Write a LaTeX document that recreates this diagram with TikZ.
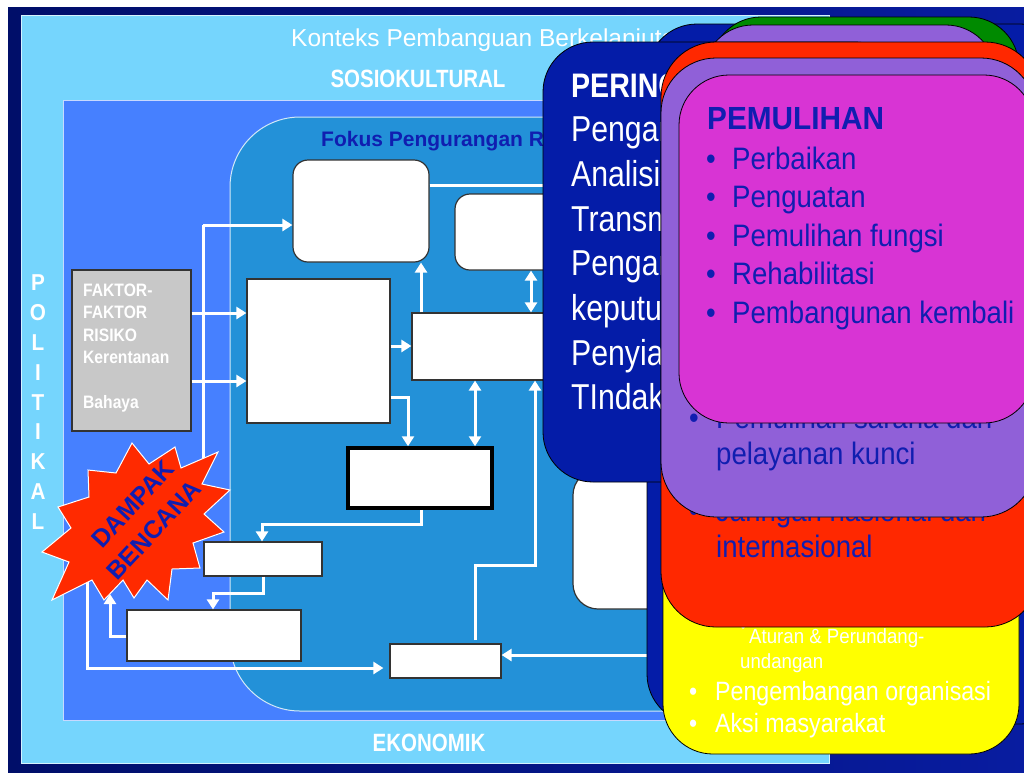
\documentclass[tikz,border=0pt]{standalone}
\usepackage{fontspec}
\setmainfont{Liberation Sans}
\usetikzlibrary{arrows.meta,positioning}
\definecolor{slidenavy}{RGB}{0,14,105}
\definecolor{slidenavyr}{RGB}{8,28,160}
\definecolor{skycyan}{RGB}{117,213,253}
\definecolor{midblue}{RGB}{70,128,255}
\definecolor{focusblue}{RGB}{35,145,216}
\definecolor{cardnavy}{RGB}{4,28,168}
\definecolor{cardgreen}{RGB}{0,138,0}
\definecolor{cardpurple}{RGB}{144,96,216}
\definecolor{cardred}{RGB}{255,40,0}
\definecolor{cardyellow}{RGB}{255,255,0}
\definecolor{cardmagenta}{RGB}{216,52,212}
\definecolor{inkblue}{RGB}{16,30,176}
\definecolor{burstred}{RGB}{255,42,0}
\definecolor{faktorgrey}{RGB}{200,200,200}
\newcommand{\fsz}[1]{\fontsize{#1}{#1}\selectfont}

\begin{document}
\begin{tikzpicture}[x=1pt,y=-1pt]
        \tikzstyle{box}=[draw=black!80,fill=white,line width=1.2pt,inner sep=0pt]
        \tikzstyle{rbox}=[box,rounded corners=15pt]
        \tikzstyle{edge}=[draw=white,line width=3pt]
        \tikzstyle{arr}=[edge,-{Triangle[length=10pt,width=12pt]}]
        \tikzstyle{darr}=[edge,{Triangle[length=10pt,width=12pt]}-{Triangle[length=10pt,width=12pt]}]
        \tikzstyle{card}=[draw=black,line width=0.8pt,rounded corners=50pt]
        \tikzstyle{hdr}=[text=white,font=\fsz{25}\bfseries,xscale=0.82,inner sep=0pt]
        \tikzstyle{cardtxt}=[anchor=base west,inner sep=0pt,text=white]
        \tikzstyle{maintxt}=[cardtxt,font=\fsz{36},xscale=0.84]
        \tikzstyle{yeltxt}=[cardtxt,font=\fsz{26.5},xscale=0.875]
        \tikzstyle{inktxt}=[cardtxt,text=inkblue,font=\fsz{31},xscale=0.89]

        \useasboundingbox (0,0) rectangle (1024,772);
        \fill[white] (0,0) rectangle (1024,772);
        \shade[left color=slidenavy,right color=slidenavyr] (8,7) rectangle (1024,772);
        \path[fill=skycyan,draw=white!70!skycyan,line width=1pt] (21,15) rectangle (829,763);
        \path[fill=midblue,draw=white!70!midblue,line width=1pt] (63,100) rectangle (720,720);
        \path[fill=focusblue,draw=white!80!focusblue,line width=1pt,rounded corners=70pt] (230,117) rectangle (740,711);

        \node[text=white,font=\fsz{24.5},anchor=base west,inner sep=0pt] (konteks) at (291,46) {Konteks Pembanguan Berkelanjutan};
        \node[hdr] (sosio) at (418,79) {SOSIOKULTURAL};
        \node[hdr] (ekonomik) at (429,743) {EKONOMIK};
        \foreach \c [count=\i from 0] in {P,O,L,I,T,I,K,A,L}
            \node[text=white,font=\fsz{23}\bfseries,xscale=0.9] (pol\i) at (38,283+29.8*\i) {\c};
        \node[cardtxt,text=inkblue,font=\fsz{21}\bfseries] (fokus) at (321,146) {Fokus Pengurangan Risiko Bencana};

        \node [box,fill=faktorgrey,minimum width=119pt,minimum height=161pt] (faktor) at (131.5,350.5) {};
        \foreach \t/\k in {FAKTOR-/0,FAKTOR/1,RISIKO/2,Kerentanan/3,Bahaya/5}
            \node[cardtxt,font=\fsz{18}\bfseries,xscale=0.87] at (83,296.5+22.4*\k) {\t};

        \node [rbox,minimum width=136pt,minimum height=102pt] (kotak1) at (361,211) {};
        \node [box,minimum width=143pt,minimum height=144pt] (kotak2) at (318.5,351) {};
        \node [rbox,minimum width=155pt,minimum height=76pt] (kotak3) at (532.5,232) {};
        \node [box,minimum width=198pt,minimum height=67pt] (kotak4) at (511,346.5) {};
        \node [box,draw=black,line width=3.5pt,minimum width=144pt,minimum height=60pt] (kotak5) at (420,478) {};
        \node [box,minimum width=118pt,minimum height=34pt] (kotak6) at (263,559) {};
        \node [box,minimum width=174pt,minimum height=51pt] (kotak7) at (214,635.5) {};
        \node [box,minimum width=111pt,minimum height=34pt] (kotak8) at (445.5,661) {};
        \node [box,rounded corners=25pt,minimum width=147pt,minimum height=139pt] (kotak9) at (646.5,539.5) {};

        \coordinate (sTop) at (203,225);
        \coordinate (sBot) at (203,468);
        \coordinate (aEnd) at (560,185);
        \coordinate (hTap) at (475,640);
        \coordinate (hFeed) at (660,655);
        \coordinate (burstfoot) at (110,594);
        \coordinate (burstleg) at (87,570);

        \path[edge] (sTop) -- (sBot);
        \path[arr] (sTop) -- (sTop -| kotak1.west);
        \path[arr] (faktor.east |- 0,313) -- (kotak2.west |- 0,313);
        \path[arr] (faktor.east |- 0,381) -- (kotak2.west |- 0,381);
        \path[edge] (kotak1.east |- aEnd) -- (aEnd);
        \path[arr] (kotak2.east |- 0,346) -- (kotak4.west |- 0,346);
        \path[arr] (421,0 |- kotak4.north) -- (421,0 |- kotak1.south);
        \path[darr] (531,0 |- kotak3.south) -- (531,0 |- kotak4.north);
        \path[arr] (kotak2.east |- 0,397) -| (408,0 |- kotak5.north);
        \path[darr] (475,0 |- kotak4.south) -- (475,0 |- kotak5.north);
        \path[arr] (hTap) |- (535,565) -- (535,0 |- kotak4.south);
        \path[arr] (421,0 |- kotak5.south) |- (262,524) -- (262,0 |- kotak6.north);
        \path[arr] (263,0 |- kotak6.south) |- (213,593) -- (213,0 |- kotak7.north);
        \path[arr] (kotak7.west |- 0,636) -| (burstfoot);
        \path[arr,shorten >=6pt] (burstleg) |- (kotak8.west |- 0,668);
        \path[arr] (hFeed) -- (kotak8.east |- hFeed);

        \path[fill=burstred,draw=white,line width=1pt]
            (132,443) -- (149,464) -- (175,447) -- (181,468) -- (218,452) -- (202,484)
            -- (230,490) -- (204,514) -- (224,532) -- (193,543) -- (200,568) -- (172,569)
            -- (168,600) -- (147,580) -- (134,598) -- (123,580) -- (104,600) -- (92,580)
            -- (52,600) -- (69,562) -- (42,552) -- (71,528) -- (58,507) -- (89,497)
            -- (88,470) -- (116,473) -- cycle;
        \node[text=inkblue,font=\fsz{25}\bfseries,rotate=47] (dampak) at (133,504) {DAMPAK};
        \node[text=inkblue,font=\fsz{25}\bfseries,rotate=47] (bencana) at (154,530) {BENCANA};

        \path[card,fill=cardnavy] (647,24) rectangle (1070,724);
        \path[card,fill=cardgreen] (711,17) rectangle (1019,420);
        \path[card,fill=cardpurple] (703,25) rectangle (996,420);
        \path[card,fill=cardnavy] (543,42) rectangle (905,482);
        \node[cardtxt,font=\fsz{34}\bfseries,xscale=0.84] (peringatan) at (571,97) {PERINGATAN};
        \foreach \t [count=\i] in {Pengamatan,Analisis,Transmisi,Pengambilan,keputusan,Penyiapan,TIndakan}
            \node[maintxt] at (571,97+44.7*\i) {\t};

        \path[card,fill=cardyellow] (663,300) rectangle (1019,754);
        \node[cardtxt,font=\fsz{12}] at (741,631) {•};
        \node[cardtxt,font=\fsz{20.5},xscale=0.91] at (749,643) {Aturan \& Perundang-};
        \node[cardtxt,font=\fsz{20.5},xscale=0.91] at (740,668) {undangan};
        \node[yeltxt] at (689,700) {•};
        \node[yeltxt] (organisasi) at (715,700) {Pengembangan organisasi};
        \node[yeltxt] at (689,732) {•};
        \node[yeltxt] (aksi) at (715,732) {Aksi masyarakat};

        \path[card,fill=cardred,rounded corners=55pt] (661,42) rectangle (1040,627);
        \node[inktxt] at (689,521) {•};
        \node[inktxt] at (716,521) {Jaringan nasional dan};
        \node[inktxt] (internasional) at (716,557) {internasional};

        \path[card,fill=cardpurple,rounded corners=55pt] (661,58) rectangle (1036,517);
        \node[inktxt] at (689,428) {•};
        \node[inktxt] at (716,428) {Pemulihan sarana dan};
        \node[inktxt] (kunci) at (716,464) {pelayanan kunci};

        \path[card,fill=cardmagenta] (679,75) rectangle (1034,423);
        \node[cardtxt,text=inkblue,font=\fsz{32}\bfseries,xscale=0.93] (pemulihan) at (707,129) {PEMULIHAN};
        \foreach \t [count=\i from 0] in {Perbaikan,Penguatan,Pemulihan fungsi,Rehabilitasi,Pembangunan kembali} {
            \node[inktxt] at (706,169+38.5*\i) {•};
            \node[inktxt] at (732,169+38.5*\i) {\t};
        }
\end{tikzpicture}
\end{document}
